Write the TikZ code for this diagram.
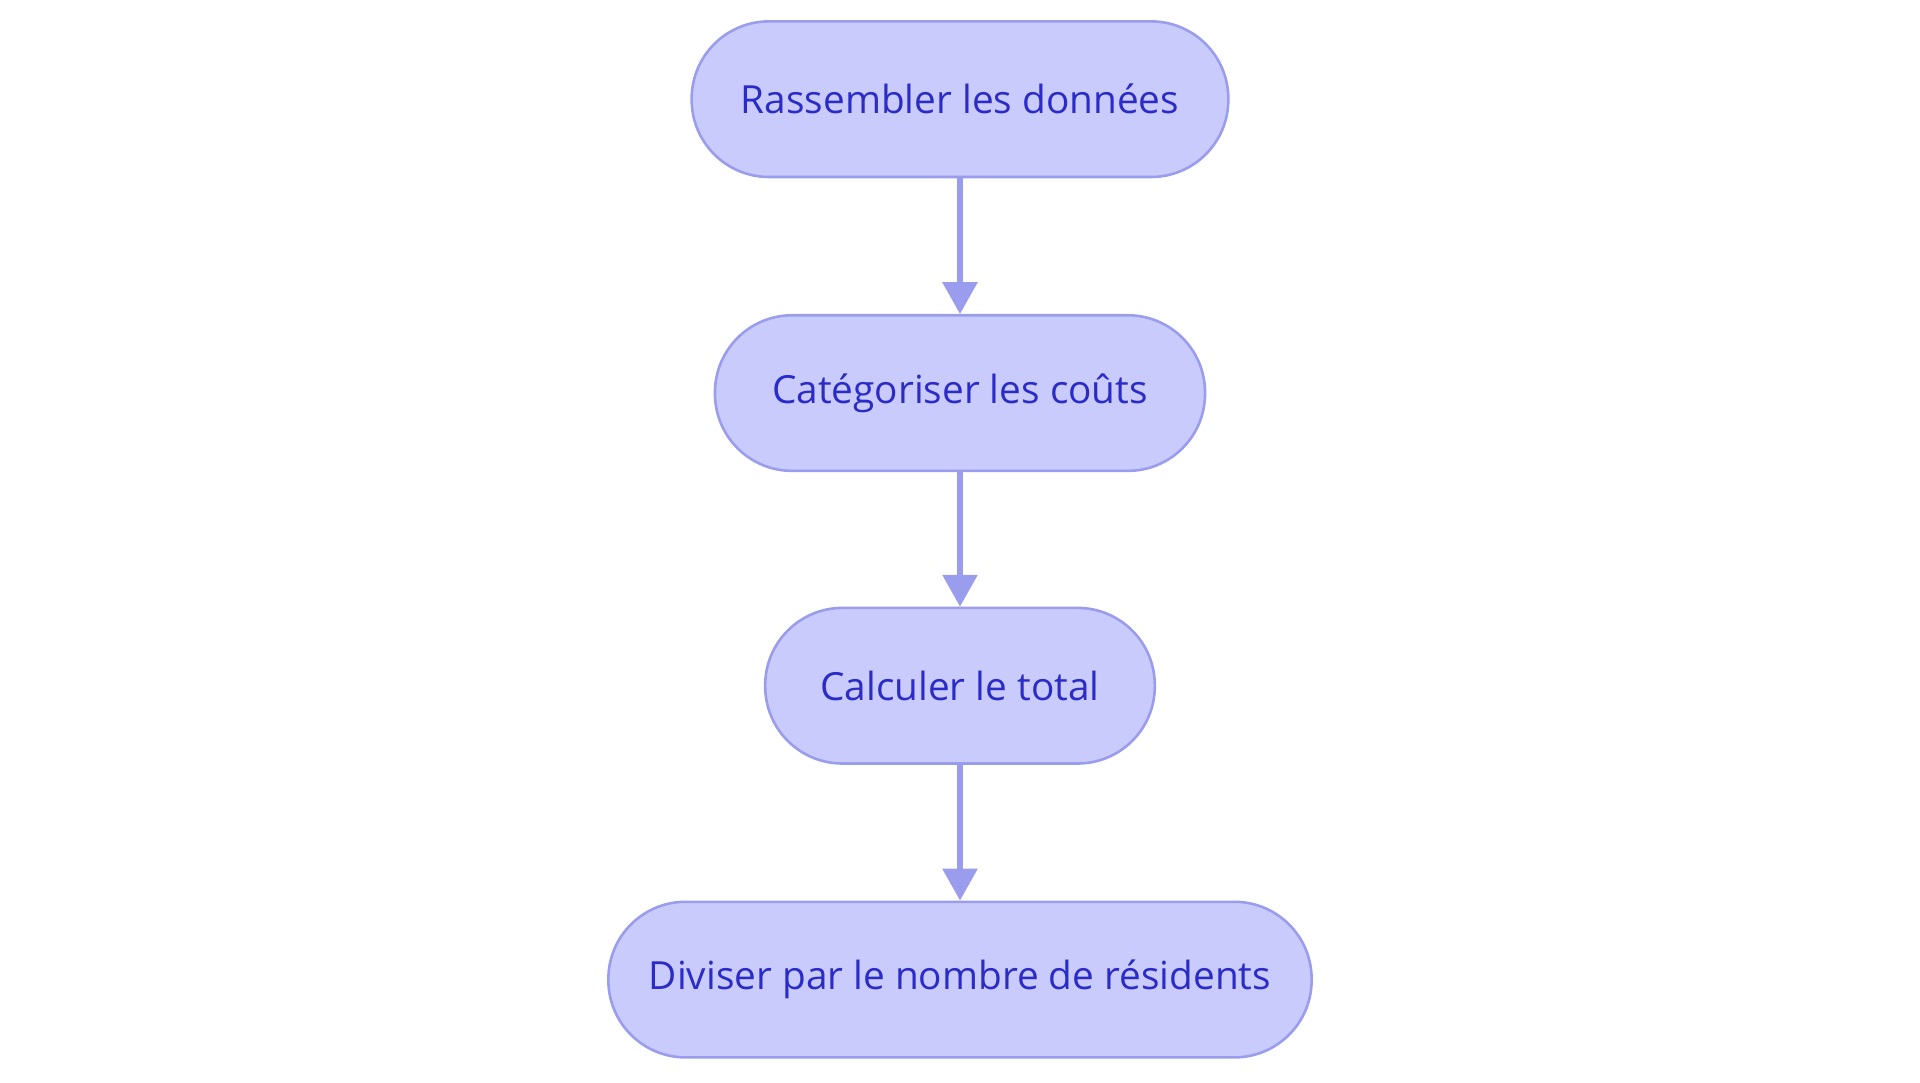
\documentclass[tikz,border=0pt]{standalone}
\usepackage{fontspec}
\setmainfont{Open Sans}
\usetikzlibrary{arrows.meta}
\definecolor{boxfill}{HTML}{C9CBFD}
\definecolor{boxline}{HTML}{9A9CEE}
\definecolor{boxtext}{HTML}{2B2BC8}
\begin{document}
\begin{tikzpicture}
            [x=0.01cm,y=-0.01cm,
             stepbox/.style={draw=boxline,fill=boxfill,text=boxtext,line width=0.6pt,rounded corners=0.63cm,minimum height=1.27cm,inner sep=0,font=\fontsize{9}{11}\selectfont},
             flow/.style={draw=boxline,line width=1.2pt,-{Triangle[width=0.28cm,length=0.26cm]}}]
            \useasboundingbox (0,0) rectangle (1568,884);

            \node[stepbox,minimum width=4.38cm] (v1) at (784,81) {Rassembler les données};
            \node[stepbox,minimum width=4.00cm] (v2) at (784,321) {Catégoriser les coûts};
            \node[stepbox,minimum width=3.18cm] (v3) at (784,560) {Calculer le total};
            \node[stepbox,minimum width=5.74cm] (v4) at (784,800) {Diviser par le nombre de résidents};

            \draw[flow] (v1) -- (v2);
            \draw[flow] (v2) -- (v3);
            \draw[flow] (v3) -- (v4);
          \end{tikzpicture}
\end{document}
